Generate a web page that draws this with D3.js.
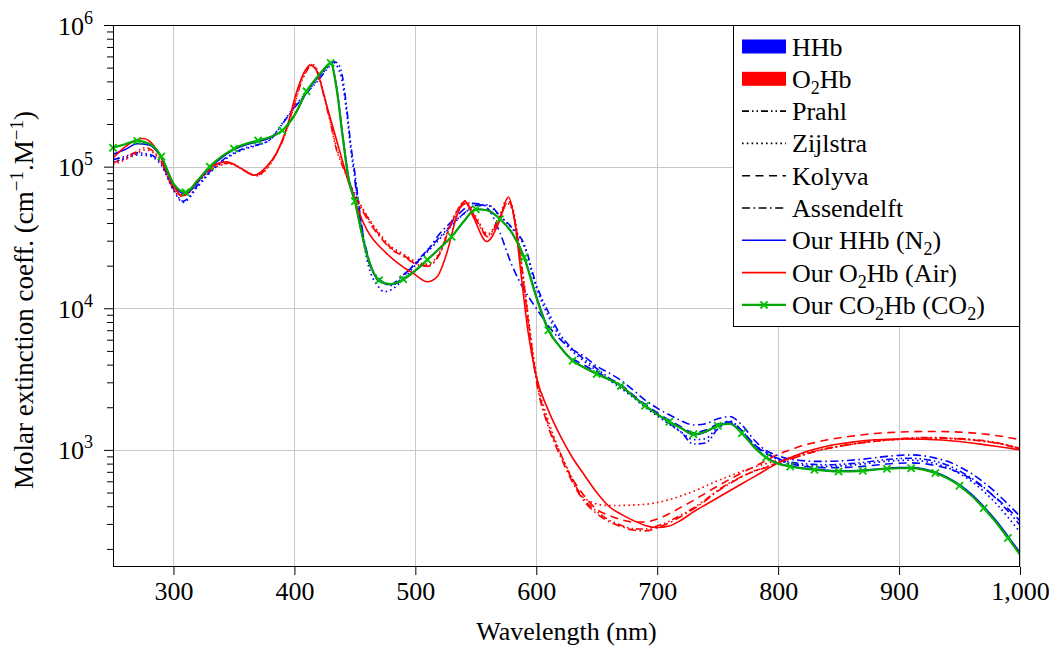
<!DOCTYPE html>
<html>
<head>
<meta charset="utf-8">
<script src="https://d3js.org/d3.v7.min.js"></script>
<style>
  html, body { margin: 0; padding: 0; background: #ffffff; }
  svg { display: block; }
  svg text { font-family: "Liberation Serif", Tinos, "Times New Roman", "DejaVu Serif", serif; fill: #000; }
</style>
</head>
<body>
<svg id="chart" width="1051" height="649"></svg>
<script>
// ---------------- DATA ----------------
const xTicks = [300, 400, 500, 600, 700, 800, 900, 1000];
const yMajorTicks = [1e3, 1e4, 1e5, 1e6];
const yTickExponents = ["3", "4", "5", "6"];
const legendLabels = ["HHb", "O2Hb", "Prahl", "Zijlstra", "Kolyva", "Assendelft", "Our HHb (N2)", "Our O2Hb (Air)", "Our CO2Hb (CO2)"];

// Our CO2Hb (green) and Our HHb (blue solid) share a grid
const wlOur = [250,260,270,280,290,300,310,320,330,340,350,360,370,380,390,400,410,420,425,430,435,440,445,450,455,460,470,480,490,500,510,520,530,540,550,560,570,580,590,600,610,620,630,640,650,660,670,680,690,700,710,720,730,740,750,760,770,780,790,800,810,820,830,840,850,860,870,880,890,900,910,920,930,940,950,960,970,980,990,1000];
const ourCO2Hb = [1.36e5,1.44e5,1.52e5,1.45e5,1.18e5,7.6e4,6.6e4,8.0e4,1.0e5,1.18e5,1.34e5,1.45e5,1.53e5,1.62e5,1.80e5,2.3e5,3.4e5,4.4e5,4.95e5,5.4e5,3.5e5,1.6e5,8.0e4,5.7e4,3.6e4,2.4e4,1.58e4,1.48e4,1.6e4,1.85e4,2.2e4,2.65e4,3.2e4,4.1e4,5.0e4,4.9e4,4.26e4,3.4e4,2.28e4,1.2e4,7.0e3,5.3e3,4.26e3,3.8e3,3.44e3,3.15e3,2.83e3,2.4e3,2.05e3,1.78e3,1.58e3,1.42e3,1.29e3,1.35e3,1.48e3,1.53e3,1.31e3,1.05e3,883,800,764,740,725,712,705,706,711,725,736,742,743,725,686,630,558,475,388,310,239,182];
const ourHHb = [1.22e5,1.32e5,1.45e5,1.42e5,1.15e5,7.4e4,6.4e4,7.8e4,9.8e4,1.16e5,1.32e5,1.43e5,1.5e5,1.6e5,1.8e5,2.3e5,3.35e5,4.35e5,4.9e5,5.35e5,3.6e5,1.65e5,8.2e4,5.8e4,3.6e4,2.4e4,1.57e4,1.47e4,1.59e4,1.84e4,2.2e4,2.65e4,3.2e4,4.1e4,5.0e4,4.9e4,4.25e4,3.4e4,2.3e4,1.22e4,7.1e3,5.3e3,4.3e3,3.8e3,3.45e3,3.15e3,2.83e3,2.4e3,2.05e3,1.78e3,1.58e3,1.42e3,1.28e3,1.34e3,1.48e3,1.54e3,1.31e3,1.06e3,890,805,768,745,730,718,712,713,718,730,742,750,752,735,695,640,568,485,398,318,246,188];

// Our O2Hb (red solid)
const wlOurO2 = [250,260,270,275,280,290,300,307,320,330,344,355,367,377,385,394,402,409,413,418,427,438,446,450,460,476,490,498,510,518,526,534,541,548,559,569,577,582,588,593,600,610,620,630,640,650,660,670,680,690,700,710,720,730,740,750,760,770,780,790,800,810,820,830,840,850,860,870,880,890,900,910,920,930,940,950,960,970,980,990,1000];
const ourO2Hb = [1.15e5,1.38e5,1.55e5,1.58e5,1.52e5,1.15e5,7.4e4,6.2e4,8.0e4,9.8e4,1.08e5,9.8e4,8.7e4,1.0e5,1.24e5,1.92e5,3.4e5,4.8e5,5.2e5,4.8e5,2.65e5,1.24e5,7.2e4,5.7e4,3.57e4,2.45e4,1.95e4,1.77e4,1.54e4,1.67e4,2.45e4,4.4e4,5.7e4,4.4e4,2.96e4,4.0e4,6.1e4,4.2e4,1.58e4,7.0e3,3.3e3,1.9e3,1.25e3,880,660,500,400,352,318,293,283,290,320,365,410,459,515,577,645,724,810,880,950,1010,1060,1100,1130,1160,1180,1190,1195,1195,1190,1180,1165,1145,1120,1090,1060,1030,1000];

// Prahl (dash-dot-dot)
const wlPrahlHHb = [250,260,270,280,290,300,308,320,330,340,350,360,370,380,390,400,410,420,428,433,437,440,443,447,450,455,460,470,480,490,500,510,520,530,540,550,560,570,580,590,600,610,620,630,640,650,660,670,680,690,700,710,720,730,740,750,760,770,780,790,800,810,820,830,840,850,860,870,880,890,900,910,920,930,940,950,960,970,980,990,1000];
const prahlHHb = [1.12e5,1.18e5,1.25e5,1.22e5,1.05e5,7.0e4,5.7e4,7.4e4,9.2e4,1.1e5,1.25e5,1.36e5,1.43e5,1.55e5,2.0e5,2.6e5,3.3e5,4.1e5,5.0e5,5.5e5,5.2e5,4.2e5,2.7e5,1.35e5,9.0e4,4.2e4,2.34e4,1.62e4,1.45e4,1.67e4,2.09e4,2.58e4,3.16e4,3.9e4,4.66e4,5.34e4,5.38e4,4.5e4,3.7e4,2.83e4,1.47e4,9.4e3,6.5e3,5.15e3,4.35e3,3.75e3,3.23e3,2.8e3,2.41e3,2.05e3,1.79e3,1.54e3,1.33e3,1.1e3,1.12e3,1.4e3,1.55e3,1.31e3,1.08e3,956,870,820,800,790,785,790,800,815,835,855,868,872,860,830,780,710,630,545,455,370,295];
const wlPrahlO2 = [250,260,270,276,280,290,300,306,310,320,330,340,345,350,360,368,375,380,390,400,405,410,414,418,420,425,430,435,440,445,450,460,470,480,490,500,510,520,530,542,550,560,570,576,580,585,590,595,600,610,620,630,640,650,660,670,680,690,700,710,720,730,740,750,760,770,780,790,800,810,820,830,840,850,860,870,880,890,900,910,920,930,940,950,960,970,980,990,1000];
const prahlO2Hb = [1.06e5,1.16e5,1.28e5,1.36e5,1.34e5,1.08e5,7.0e4,6.3e4,6.4e4,7.8e4,9.5e4,1.04e5,1.06e5,1.04e5,9.3e4,8.7e4,9.3e4,1.05e5,1.5e5,2.7e5,3.8e5,4.7e5,5.25e5,4.9e5,4.4e5,3.0e5,2.0e5,1.3e5,1.0e5,7.8e4,6.3e4,4.45e4,3.32e4,2.66e4,2.37e4,2.09e4,2.0e4,2.42e4,4.0e4,5.5e4,4.3e4,3.26e4,4.45e4,5.5e4,5.0e4,3.0e4,1.44e4,6.5e3,3.2e3,1.51e3,942,610,442,368,320,294,278,276,290,314,348,390,446,518,586,650,710,756,816,864,916,974,1022,1058,1092,1128,1154,1178,1198,1214,1224,1222,1214,1204,1186,1162,1128,1080,1024];

// Zijlstra (dotted)
const wlZijHHb = [250,260,270,280,290,300,308,320,330,340,350,360,370,380,390,400,410,420,428,432,436,440,443,447,450,455,460,470,474,480,490,500,510,520,530,540,550,560,570,580,590,600,610,620,630,640,650,660,670,680,690,700,710,720,730,740,750,760,770,780,790,800,810,820,830,840,850,860,870,880,890,900,910,920,930,940,950,960,970,980,990,1000];
const zijHHb = [1.08e5,1.14e5,1.21e5,1.19e5,1.02e5,6.8e4,5.6e4,7.2e4,9.0e4,1.08e5,1.23e5,1.34e5,1.42e5,1.56e5,2.02e5,2.65e5,3.35e5,4.2e5,5.1e5,5.45e5,5.0e5,3.8e5,2.5e5,1.25e5,8.3e4,3.9e4,2.2e4,1.4e4,1.31e4,1.35e4,1.6e4,2.02e4,2.5e4,3.08e4,3.85e4,4.62e4,5.3e4,5.3e4,4.45e4,3.65e4,2.75e4,1.4e4,8.8e3,6.2e3,4.95e3,4.2e3,3.62e3,3.12e3,2.72e3,2.35e3,2.0e3,1.74e3,1.52e3,1.33e3,1.18e3,1.2e3,1.45e3,1.6e3,1.36e3,1.1e3,960,850,800,780,770,765,770,780,795,815,832,842,845,832,800,750,680,600,510,420,335,262];
const wlZijO2 = [250,260,270,276,280,290,300,306,310,320,330,340,345,350,360,368,375,380,390,400,405,410,414,418,420,425,430,435,440,445,450,460,470,480,490,500,510,520,530,542,550,560,570,576,580,585,590,595,600,610,620,630,636,640,650,660,670,680,690,700,710,720,730,740,750,760,770,780,790,800,810,820,830,840,850,860,870,880,890,900,910,920,930,940,950,960,970,980,990,1000];
const zijO2Hb = [1.03e5,1.12e5,1.24e5,1.31e5,1.3e5,1.06e5,6.9e4,6.2e4,6.3e4,7.7e4,9.4e4,1.03e5,1.05e5,1.03e5,9.2e4,8.6e4,9.2e4,1.04e5,1.52e5,2.75e5,3.9e5,4.8e5,5.3e5,5.0e5,4.5e5,3.1e5,2.05e5,1.35e5,1.03e5,8.0e4,6.4e4,4.5e4,3.4e4,2.72e4,2.42e4,2.14e4,2.05e4,2.48e4,4.1e4,5.75e4,4.45e4,3.35e4,4.6e4,5.9e4,5.3e4,3.1e4,1.5e4,6.8e3,3.4e3,1.6e3,950,620,482,455,415,405,405,408,413,425,445,475,510,555,605,655,705,755,800,845,885,930,980,1025,1060,1095,1125,1150,1170,1185,1198,1205,1205,1200,1190,1175,1150,1120,1075,1020];

// Kolyva (dashed)
const wlKolyva = [630,640,650,660,670,680,690,700,710,720,730,740,750,760,770,780,790,800,810,820,830,840,850,860,870,880,890,900,910,920,930,940,950,960,970,980,990,1000];
const kolyvaHHb = [4.4e3,3.95e3,3.55e3,3.2e3,2.88e3,2.45e3,2.1e3,1.83e3,1.62e3,1.45e3,1.32e3,1.38e3,1.52e3,1.58e3,1.37e3,1.1e3,940,870,800,770,755,748,750,755,765,780,795,805,810,800,775,740,690,620,540,460,385,315];
const kolyvaO2Hb = [620,470,380,345,322,310,310,325,355,395,440,495,555,620,690,760,840,930,1000,1070,1125,1175,1215,1250,1280,1305,1322,1336,1345,1350,1350,1345,1335,1318,1295,1265,1225,1180];

// Assendelft (dash-dot)
const wlAssHHb = [450,455,460,470,480,490,500,510,520,530,540,547,555,562,570,580,590,600,610,620,630,640,650,660,670,680,690,700,710,720,730,740,750,760,770,780,790,800,810,820,830,840,850,860,870,880,890,900,910,920,930,940,950,960,970,980,990,1000];
const assHHb = [8.0e4,4.0e4,2.5e4,1.55e4,1.48e4,1.72e4,2.05e4,2.55e4,3.35e4,4.1e4,5.0e4,5.5e4,5.4e4,4.8e4,3.4e4,2.0e4,1.35e4,1.0e4,7.5e3,6.0e3,5.1e3,4.55e3,3.9e3,3.5e3,3.1e3,2.65e3,2.25e3,1.97e3,1.77e3,1.6e3,1.5e3,1.53e3,1.66e3,1.72e3,1.5e3,1.18e3,990,910,860,840,830,830,835,845,860,880,900,915,922,910,875,830,760,680,590,500,415,340];
const wlAssO2 = [450,460,470,480,490,500,510,520,530,541,550,560,570,577,580,585,590,595,600,610,620,630,640,650,660,670,680,690,700,710,720,730,740,750,760,770,780,790,800,810,820,830,840,850,860,870,880,890,900,910,920,930,940,950,960,970,980,990,1000];
const assO2Hb = [6.1e4,4.3e4,3.25e4,2.62e4,2.33e4,2.06e4,1.98e4,2.4e4,4.05e4,5.6e4,4.25e4,3.2e4,4.4e4,5.7e4,5.1e4,2.9e4,1.4e4,6.2e3,3.1e3,1.45e3,900,590,430,355,312,288,272,268,282,305,340,382,438,510,578,645,705,752,812,862,915,972,1020,1058,1092,1125,1150,1172,1190,1205,1214,1214,1208,1196,1178,1152,1118,1072,1015];

// ---------------- CHART ----------------
const m = { left: 113, right: 1020, top: 25, bottom: 567 };
const FONT = 26;
const FAMILY = '"Liberation Serif", Tinos, "Times New Roman", "DejaVu Serif", serif';

const svg = d3.select("#chart");
const x = d3.scaleLinear().domain([250, 1000]).range([m.left, m.right]);
const y = d3.scaleLog().domain([149, 1e6]).range([m.bottom, m.top]);

const BLUE = "#0000ff", RED = "#ff0000", GREEN = "#00a800", GREENM = "#00c400";
const styles = {
  prahl: "7,3,1.5,3,1.5,3",
  zij: "1.6,3.2",
  kolyva: "8,5.5",
  ass: "8,3.5,1.6,3.5"
};

svg.append("defs").append("clipPath").attr("id", "plotclip")
  .append("rect").attr("x", m.left).attr("y", m.top)
  .attr("width", m.right - m.left).attr("height", m.bottom - m.top);

// grid
const grid = svg.append("g").attr("stroke", "#c8c8c8").attr("stroke-width", 1).attr("shape-rendering", "crispEdges");
grid.selectAll("line.vx").data(xTicks).join("line")
  .attr("x1", d => Math.round(x(d)) + 0.5).attr("x2", d => Math.round(x(d)) + 0.5)
  .attr("y1", m.top).attr("y2", m.bottom);
grid.selectAll("line.hy").data(yMajorTicks).join("line")
  .attr("y1", d => Math.round(y(d)) + 0.5).attr("y2", d => Math.round(y(d)) + 0.5)
  .attr("x1", m.left).attr("x2", m.right);

// x axis
const xAxis = d3.axisBottom(x).tickValues(xTicks).tickSize(8).tickSizeOuter(0).tickPadding(6)
  .tickFormat(d3.format(","));
const gx = svg.append("g").attr("transform", `translate(0,${m.bottom})`).call(xAxis)
  .attr("font-family", FAMILY).attr("font-size", FONT);
gx.select(".domain").remove();
gx.selectAll("line").attr("stroke", "#000");
gx.selectAll("text").attr("font-size", FONT).attr("dy", "0.72em");

// y axis minor ticks
const minorVals = [];
[100, 1000, 10000, 100000].forEach(b => { for (let k = 2; k <= 9; k++) { const v = b * k; if (v >= 149 && v < 1e6) minorVals.push(v); } });
const gyMinor = svg.append("g").attr("transform", `translate(${m.left},0)`)
  .call(d3.axisLeft(y).tickValues(minorVals).tickSize(6).tickSizeOuter(0).tickFormat(() => ""));
gyMinor.select(".domain").remove();
gyMinor.selectAll("line").attr("stroke", "#000");

// y axis major ticks
const gy = svg.append("g").attr("transform", `translate(${m.left},0)`)
  .call(d3.axisLeft(y).tickValues(yMajorTicks).tickSize(9).tickSizeOuter(0).tickFormat(() => ""))
  .attr("font-family", FAMILY).attr("font-size", FONT);
gy.select(".domain").remove();
gy.selectAll("line").attr("stroke", "#000");
gy.selectAll(".tick text").each(function(d, i) {
  const t = d3.select(this).attr("x", -20).attr("dy", null).attr("y", 9)
    .attr("font-size", FONT).attr("text-anchor", "end");
  t.append("tspan").text("10");
  t.append("tspan").attr("font-size", 18).attr("dy", -11).text(yTickExponents[i]);
});

// lines
const lineGen = d3.line().x(d => x(d[0])).y(d => y(d[1])).curve(d3.curveMonotoneX);
const plot = svg.append("g").attr("clip-path", "url(#plotclip)").attr("fill", "none");
function drawSeries(wl, vals, color, dash, width) {
  plot.append("path").datum(d3.zip(wl, vals))
    .attr("d", lineGen).attr("stroke", color).attr("stroke-width", width)
    .attr("stroke-dasharray", dash || null).attr("stroke-linejoin", "round");
}
drawSeries(wlPrahlHHb, prahlHHb, BLUE, styles.prahl, 1.6);
drawSeries(wlPrahlO2, prahlO2Hb, RED, styles.prahl, 1.6);
drawSeries(wlZijHHb, zijHHb, BLUE, styles.zij, 1.7);
drawSeries(wlZijO2, zijO2Hb, RED, styles.zij, 1.7);
drawSeries(wlKolyva, kolyvaHHb, BLUE, styles.kolyva, 1.6);
drawSeries(wlKolyva, kolyvaO2Hb, RED, styles.kolyva, 1.6);
drawSeries(wlAssHHb, assHHb, BLUE, styles.ass, 1.6);
drawSeries(wlAssO2, assO2Hb, RED, styles.ass, 1.6);
drawSeries(wlOur, ourHHb, BLUE, null, 1.6);
drawSeries(wlOurO2, ourO2Hb, RED, null, 1.6);
drawSeries(wlOur, ourCO2Hb, GREEN, null, 2.2);

// green markers every 20 nm
const markerPts = d3.zip(wlOur, ourCO2Hb).filter(d => d[0] % 20 === 10);
const mk = 3.6;
const markerG = svg.append("g").attr("stroke", GREENM).attr("stroke-width", 1.8);
markerPts.forEach(d => {
  const cx = x(d[0]), cy = y(d[1]);
  markerG.append("path").attr("d", `M${cx - mk},${cy - mk}L${cx + mk},${cy + mk}M${cx - mk},${cy + mk}L${cx + mk},${cy - mk}`);
});

// frame
svg.append("rect").attr("x", m.left + 0.5).attr("y", m.top + 0.5)
  .attr("width", m.right - m.left - 1).attr("height", m.bottom - m.top - 1)
  .attr("fill", "none").attr("stroke", "#000").attr("stroke-width", 1).attr("shape-rendering", "crispEdges");

// axis labels
svg.append("text").attr("x", (m.left + m.right) / 2).attr("y", 640)
  .attr("text-anchor", "middle").attr("font-size", FONT).attr("font-family", FAMILY).text("Wavelength (nm)");
const yl = svg.append("text").attr("transform", `translate(33,${(m.top + m.bottom) / 2 + 4}) rotate(-90)`)
  .attr("text-anchor", "middle").attr("font-size", 27).attr("font-family", FAMILY);
yl.append("tspan").text("Molar extinction coeff. (cm");
yl.append("tspan").attr("font-size", 19).attr("dy", -10).text("\u22121");
yl.append("tspan").attr("dy", 10).text(".M");
yl.append("tspan").attr("font-size", 19).attr("dy", -10).text("\u22121");
yl.append("tspan").attr("dy", 10).text(")");

// legend
const lg = svg.append("g").attr("font-family", FAMILY);
lg.append("rect").attr("x", 733.5).attr("y", m.top + 0.5).attr("width", 286).attr("height", 301)
  .attr("fill", "#fff").attr("stroke", "#000").attr("stroke-width", 1).attr("shape-rendering", "crispEdges");
const legendKinds = [
  { type: "rect", color: BLUE }, { type: "rect", color: RED },
  { type: "line", color: "#000", dash: styles.prahl }, { type: "line", color: "#000", dash: styles.zij },
  { type: "line", color: "#000", dash: styles.kolyva }, { type: "line", color: "#000", dash: styles.ass },
  { type: "line", color: BLUE }, { type: "line", color: RED }, { type: "marker", color: GREEN }
];
legendLabels.forEach((lab, i) => {
  const cy = 46.5 + i * 32.3;
  const k = legendKinds[i];
  if (k.type === "rect") {
    lg.append("rect").attr("x", 742).attr("y", cy - 7).attr("width", 44).attr("height", 14).attr("fill", k.color);
  } else {
    lg.append("line").attr("x1", 742).attr("x2", 786).attr("y1", cy).attr("y2", cy)
      .attr("stroke", k.color).attr("stroke-width", k.type === "marker" ? 2.2 : 1.6)
      .attr("stroke-dasharray", k.dash || null);
    if (k.type === "marker") {
      lg.append("path").attr("d", `M${764 - mk},${cy - mk}L${764 + mk},${cy + mk}M${764 - mk},${cy + mk}L${764 + mk},${cy - mk}`)
        .attr("stroke", GREENM).attr("stroke-width", 1.8);
    }
  }
  const t = lg.append("text").attr("x", 792).attr("y", cy + 9).attr("font-size", FONT);
  const parts = lab.split(/(?<=[ON])2/);
  parts.forEach((p, j) => {
    t.append("tspan").attr("dy", j > 0 ? -6 : null).text(p);
    if (j < parts.length - 1) t.append("tspan").attr("font-size", 18).attr("dy", 6).text("2");
  });
});
</script>
</body>
</html>
